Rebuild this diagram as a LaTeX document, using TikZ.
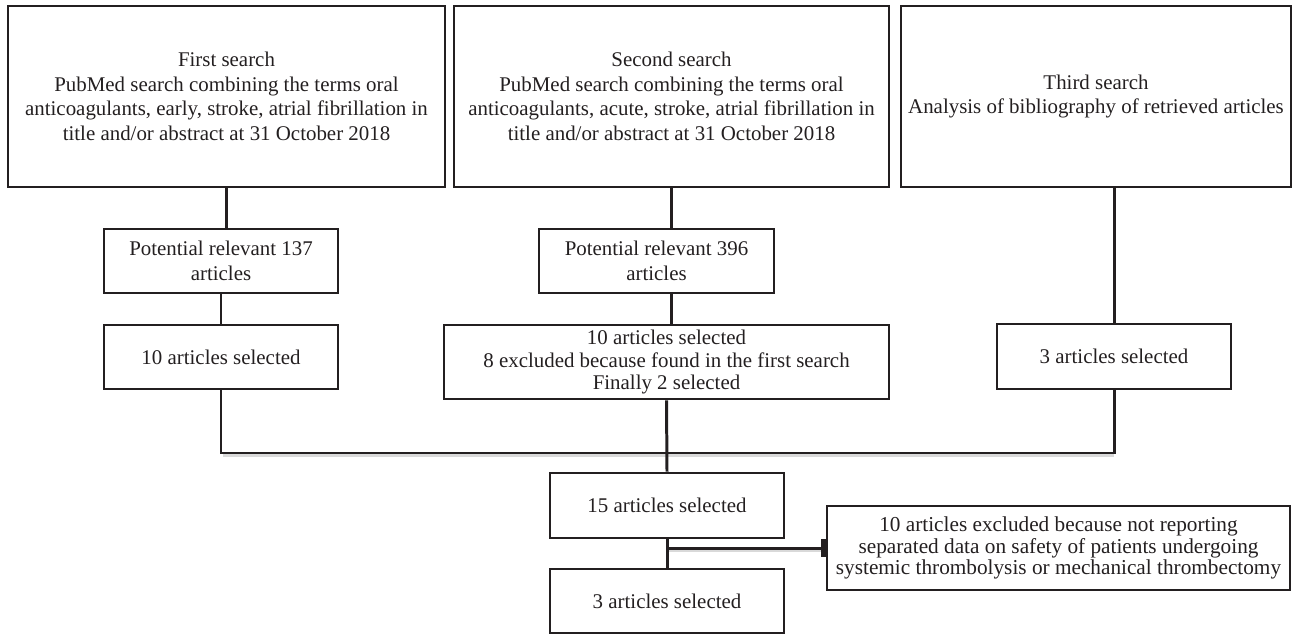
\documentclass[tikz,border=0pt]{standalone}
\usepackage{fontspec}
\setmainfont{Liberation Serif}
\usetikzlibrary{arrows.meta,calc}
\definecolor{ink}{RGB}{35,31,32}
\begin{document}
\begin{tikzpicture}[x=0.02cm,y=-0.02cm,
  box/.style={draw=ink, line width=1.6pt, align=center, inner sep=0pt, text=ink,
    font=\fontsize{11.9}{14}\selectfont},
  dims/.style n args={2}{minimum width={#1*0.02cm}, minimum height={#2*0.02cm}},
  conn/.style={draw=ink, line width=1.7pt},
  shade/.style={draw=gray!30, line width=1.6pt}]
\useasboundingbox (0,0) rectangle (1294,635);

\node[box, dims={437}{181}] (B1) at (226.5,96.5)
  {First search\\PubMed search combining the terms oral\\anticoagulants, early, stroke, atrial fibrillation in\\title and/or abstract at 31 October 2018};
\node[box, dims={435}{181}] (B2) at (671.5,96.5)
  {Second search\\PubMed search combining the terms oral\\anticoagulants, acute, stroke, atrial fibrillation in\\title and/or abstract at 31 October 2018};
\node[box, dims={390}{181}] (B3) at (1096,96.5)
  {Third search\\Analysis of bibliography of retrieved articles};

\node[box, dims={234}{64}] (P1) at (221,261) {Potential relevant 137\\articles};
\node[box, dims={234}{64}] (S1) at (221,357) {10 articles selected};
\node[box, dims={235}{64}] (P2) at (656.5,261) {Potential relevant 396\\articles};
\node[box, dims={445}{74}, font=\fontsize{11.9}{12.8}\selectfont] (S2) at (666.5,362)
  {10 articles selected\\8 excluded because found in the first search\\Finally 2 selected};
\node[box, dims={234}{65}] (S3) at (1114,356.5) {3 articles selected};

\node[box, dims={234}{65}] (F15) at (667,505.5) {15 articles selected};
\node[box, dims={234}{64}] (F3) at (667,601) {3 articles selected};
\node[box, dims={463}{84}, font=\fontsize{12.1}{12.4}\selectfont] (EX) at (1058.5,548)
  {10 articles excluded because not reporting\\separated data on safety of patients undergoing\\systemic thrombolysis or mechanical thrombectomy};

\coordinate (bus) at (1114,453);

% soft shadows under horizontal lines
\draw[shade] ($(S1.south |- bus)+(2,2.2)$) -- ($(bus)+(0,2.2)$);
\draw[shade] ($(F15.south |- EX.west)+(2,2.2)$) -- ($(EX.west)+(-4,2.2)$);

\draw[conn] (B1.south) -- (B1.south |- P1.north);
\draw[conn] (P1.south) -- (S1.north);
\draw[conn] (B2.south) -- (B2.south |- P2.north);
\draw[conn] (B2.south |- P2.south) -- (B2.south |- S2.north);
\draw[conn] (S3.north |- B3.south) -- (S3.north);
\draw[conn] (S1.south) |- (bus) -- (S3.south);
\draw[conn] (S2.south) -- (F15.north);
\draw[conn] (F15.south) -- (F3.north);
\draw[conn, -{Bar[width=9.7pt,line width=2.4pt]}] (F15.south |- EX.west) -- (EX.west);
\end{tikzpicture}
\end{document}
